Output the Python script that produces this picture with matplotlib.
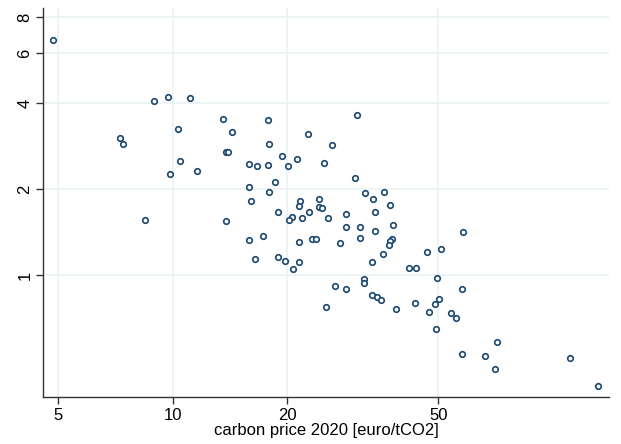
import numpy as np
import matplotlib
matplotlib.use('Agg')
from matplotlib import pyplot as plt
from matplotlib.ticker import FixedLocator, NullLocator

# carbon price 2020 [euro/tCO2] and the plotted ratio
price = [4.84, 8.95, 9.70, 11.10, 13.59, 10.34, 14.32, 7.25, 7.39, 13.81,
         14.01, 10.43, 15.85, 16.70, 9.82, 11.58, 15.91, 16.10, 8.44, 13.84,
         15.85, 16.44, 17.81, 30.61, 22.70, 17.89, 26.27, 19.36, 21.20, 17.78,
         20.15, 25.01, 30.24, 18.62, 17.92, 32.01, 35.92, 33.65, 21.63, 24.27,
         21.50, 24.31, 24.71, 37.38, 18.89, 22.80, 34.07, 20.60, 20.23, 21.85,
         25.62, 28.53, 28.53, 31.17, 38.07, 34.01, 31.17, 37.70, 37.31, 37.02,
         17.25, 21.54, 23.30, 23.83, 27.51, 35.83, 18.93, 19.79, 21.50, 20.77,
         33.39, 41.79, 43.60, 46.60, 50.83, 58.07, 26.79, 28.58, 31.82, 31.78,
         33.51, 34.42, 35.27, 49.51, 57.61, 50.30, 25.31, 38.63, 43.49, 48.92,
         47.26, 53.89, 55.55, 49.40, 71.48, 57.82, 66.23, 70.50, 110.8, 131.8]
ratio = [6.66, 4.07, 4.20, 4.16, 3.52, 3.24, 3.17, 3.02, 2.88, 2.71,
         2.71, 2.51, 2.45, 2.41, 2.27, 2.31, 2.04, 1.82, 1.56, 1.55,
         1.33, 1.14, 3.50, 3.65, 3.12, 2.89, 2.86, 2.62, 2.56, 2.43,
         2.42, 2.47, 2.19, 2.12, 1.96, 1.94, 1.95, 1.85, 1.82, 1.85,
         1.75, 1.74, 1.72, 1.76, 1.66, 1.67, 1.67, 1.60, 1.56, 1.59,
         1.59, 1.64, 1.48, 1.48, 1.50, 1.43, 1.35, 1.34, 1.32, 1.28,
         1.37, 1.31, 1.34, 1.34, 1.30, 1.19, 1.16, 1.12, 1.11, 1.05,
         1.11, 1.06, 1.06, 1.21, 1.24, 1.42, 0.92, 0.896, 0.97, 0.941,
         0.855, 0.841, 0.821, 0.976, 0.896, 0.829, 0.774, 0.760, 0.802, 0.792,
         0.741, 0.738, 0.709, 0.650, 0.583, 0.529, 0.521, 0.470, 0.515, 0.409]

xticks = [5, 10, 20, 50]
yticks = [1, 2, 4, 6, 8]

plt.rcParams['font.family'] = ['Liberation Sans', 'DejaVu Sans']

fig = plt.figure(figsize=(6.21, 4.44), dpi=100)
ax = fig.add_axes([0.070, 0.106, 0.911, 0.876])

ax.scatter(price, ratio, s=16, facecolors='white', edgecolors='#1a476f',
           linewidths=1.2, zorder=3)

ax.set_xscale('log')
ax.set_yscale('log')
ax.set_xlim(4.57, 140.7)
ax.set_ylim(0.375, 8.63)

ax.xaxis.set_major_locator(FixedLocator(xticks))
ax.yaxis.set_major_locator(FixedLocator(yticks))
ax.xaxis.set_minor_locator(NullLocator())
ax.yaxis.set_minor_locator(NullLocator())
ax.set_xticklabels([str(t) for t in xticks])
ax.set_yticklabels([str(t) for t in yticks], rotation=90, va='center')

ax.grid(True, color='#eaf2f3', linewidth=1.2, zorder=0)
ax.set_axisbelow(True)

for s in ['top', 'right']:
    ax.spines[s].set_visible(False)
for s in ['left', 'bottom']:
    ax.spines[s].set_color('#333333')
    ax.spines[s].set_linewidth(1.0)

ax.tick_params(axis='both', length=5, width=1, color='#333333',
               labelsize=12, pad=3)
ax.set_xlabel('carbon price 2020 [euro/tCO2]', fontsize=12, labelpad=0)

fig.savefig('out.png', dpi=100)
